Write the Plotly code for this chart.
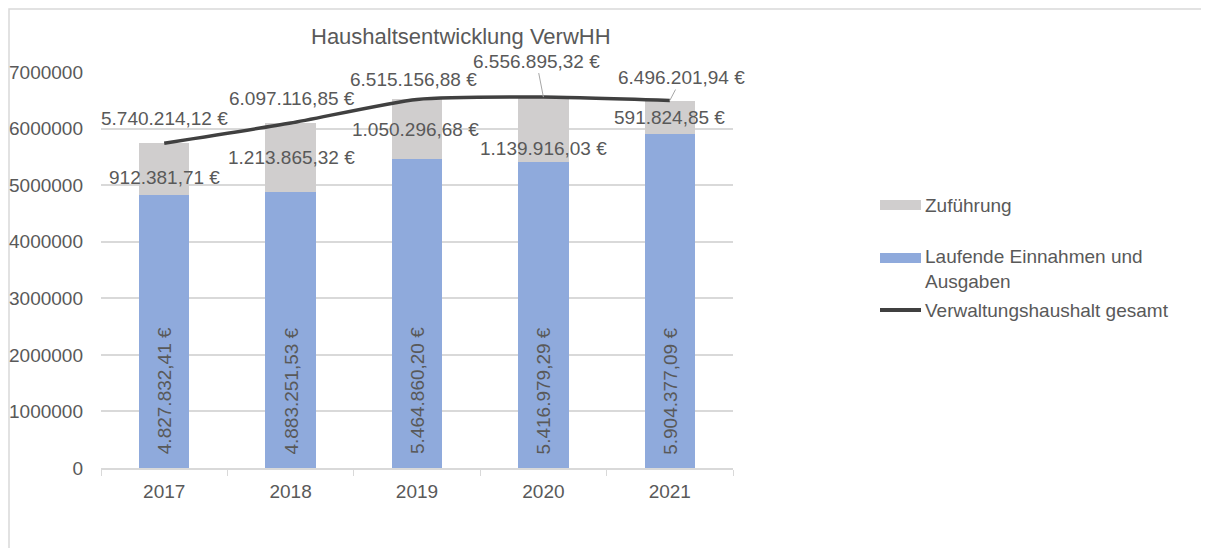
import plotly.graph_objects as go

years = ["2017", "2018", "2019", "2020", "2021"]
laufende = [4827832.41, 4883251.53, 5464860.20, 5416979.29, 5904377.09]
zufuehrung = [912381.71, 1213865.32, 1050296.68, 1139916.03, 591824.85]
gesamt = [5740214.12, 6097116.85, 6515156.88, 6556895.32, 6496201.94]

OFF = 8  # page body margin
W, H = 1209 - OFF, 548 - OFF
ML, MT = 101 - OFF, 72 - OFF
PW, PH = 632, 396
MR, MB = W - ML - PW, H - MT - PH
FONT = "Liberation Sans, Arial, sans-serif"
TXT = "#595959"
BLUE = "#8FAADC"
GRAY = "#D0CECE"
LINE = "#404040"


def px_x(p):
    return (p - OFF - ML) / PW


def px_y(p):
    return (MT + PH - (p - OFF)) / PH


def eur(v):
    s = f"{v:,.2f}"
    s = s.replace(",", "X").replace(".", ",").replace("X", ".")
    return s + " €"


fig = go.Figure()
fig.add_trace(go.Bar(x=years, y=laufende, name="Laufende Einnahmen und Ausgaben",
                     marker=dict(color=BLUE, line=dict(width=0)), showlegend=False))
fig.add_trace(go.Bar(x=years, y=zufuehrung, name="Zuführung",
                     marker=dict(color=GRAY, line=dict(width=0)), showlegend=False))
fig.add_trace(go.Scatter(x=years, y=gesamt, name="Verwaltungshaushalt gesamt", mode="lines",
                         line=dict(color=LINE, width=3.5, shape="spline", smoothing=0.6),
                         showlegend=False))

ann = []
# total line labels (xshift, yshift, arrow)
tot_off = [(0, 25, None), (1, 25, None), (-4, 20, None), (-7, 36, True), (12, 23, True)]
for i, v in enumerate(gesamt):
    dx, dy, arr = tot_off[i]
    if arr:
        ann.append(dict(x=i, y=v, xref="x", yref="y", text=eur(v), showarrow=True,
                        arrowhead=0, arrowwidth=1, arrowcolor="#a6a6a6", ax=dx, ay=-dy,
                        standoff=0, font=dict(family=FONT, size=19, color=TXT)))
    else:
        ann.append(dict(x=i, y=v, xref="x", yref="y", text=eur(v), showarrow=False,
                        xshift=dx, yshift=dy, font=dict(family=FONT, size=19, color=TXT)))

zu_off = [(0, -8), (1, 0), (-2, 0), (0, -19), (0, 0)]
for i, (b, g) in enumerate(zip(laufende, zufuehrung)):
    dx, dy = zu_off[i]
    ann.append(dict(x=i, y=b + g / 2, xref="x", yref="y", text=eur(g), showarrow=False,
                    xshift=dx, yshift=dy, font=dict(family=FONT, size=19, color=TXT)))

for i, b in enumerate(laufende):
    ann.append(dict(x=i, y=0, xref="x", yref="y", text=eur(b), showarrow=False,
                    textangle=-90, yshift=77, font=dict(family=FONT, size=19, color=TXT)))

# title
ann.append(dict(x=px_x(461), y=px_y(36), xref="paper", yref="paper",
                xanchor="center", yanchor="middle",
                text="Haushaltsentwicklung VerwHH", showarrow=False,
                font=dict(family=FONT, size=22, color=TXT)))

# legend (custom)
shapes = []
leg = [("Zuführung", GRAY, 205, "bar"),
       ("Laufende Einnahmen und<br>Ausgaben", BLUE, 258, "bar"),
       ("Verwaltungshaushalt gesamt", LINE, 310, "line")]
for label, col, yc, kind in leg:
    if kind == "bar":
        shapes.append(dict(type="rect", xref="paper", yref="paper",
                           x0=px_x(880), x1=px_x(921), y0=px_y(yc - 5), y1=px_y(yc + 5),
                           fillcolor=col, line=dict(width=0)))
        yt = yc if "<br>" not in label else yc + 11
    else:
        shapes.append(dict(type="line", xref="paper", yref="paper",
                           x0=px_x(880), x1=px_x(921), y0=px_y(yc), y1=px_y(yc),
                           line=dict(color=col, width=4)))
        yt = yc
    ann.append(dict(x=px_x(923), y=px_y(yt), xref="paper", yref="paper", text=label,
                    showarrow=False, xanchor="left", yanchor="middle", align="left",
                    font=dict(family=FONT, size=19, color=TXT)))

# outer chart border
shapes.append(dict(type="rect", xref="paper", yref="paper",
                   x0=px_x(OFF + 1), x1=px_x(1230), y0=px_y(570), y1=px_y(OFF + 1),
                   line=dict(color="#d9d9d9", width=1.5), fillcolor="rgba(0,0,0,0)", layer="below"))

fig.update_layout(
    width=W, height=H,
    margin=dict(l=ML, r=MR, t=MT, b=MB, pad=0, autoexpand=False),
    paper_bgcolor="white", plot_bgcolor="white",
    barmode="stack", bargap=0.6,
    font=dict(family=FONT, size=19, color=TXT),
    annotations=ann, shapes=shapes,
    showlegend=False,
)
fig.update_xaxes(type="category", range=[-0.5, 4.5], showgrid=False, showline=True,
                 linecolor="#d9d9d9", linewidth=1.5, automargin=False,
                 ticks="outside", tickson="boundaries", ticklen=6, tickcolor="#d9d9d9",
                 ticklabelstandoff=5,
                 tickfont=dict(family=FONT, size=19, color=TXT))
fig.update_yaxes(range=[0, 7000000], dtick=1000000, tickformat="d", showgrid=True,
                 gridcolor="#d9d9d9", gridwidth=1.5, zeroline=False, showline=False,
                 automargin=False,
                 ticks="", ticklabelstandoff=17, tickfont=dict(family=FONT, size=19, color=TXT))

fig.write_html("out.html")
